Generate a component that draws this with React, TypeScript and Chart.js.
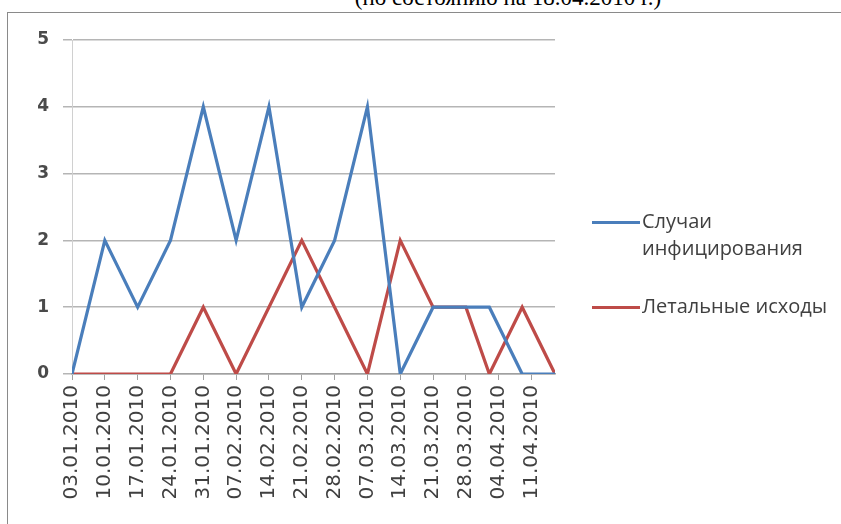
import React, { useEffect, useRef } from "react";
import { Chart, registerables } from "chart.js";

Chart.register(...registerables);

// Dates of the observations (points on a date axis)
const pointDates = [
  "03.01.2010", "10.01.2010", "17.01.2010", "24.01.2010", "31.01.2010",
  "07.02.2010", "14.02.2010", "21.02.2010", "28.02.2010", "07.03.2010",
  "14.03.2010", "21.03.2010", "28.03.2010", "02.04.2010", "09.04.2010",
  "16.04.2010",
];
// Случаи инфицирования
const infected = [0, 2, 1, 2, 4, 2, 4, 1, 2, 4, 0, 1, 1, 1, 0, 0];
// Летальные исходы
const deaths = [0, 0, 0, 0, 1, 0, 1, 2, 1, 0, 2, 1, 1, 0, 1, 0];

// Weekly tick labels of the date axis
const tickDates = [
  "03.01.2010", "10.01.2010", "17.01.2010", "24.01.2010", "31.01.2010",
  "07.02.2010", "14.02.2010", "21.02.2010", "28.02.2010", "07.03.2010",
  "14.03.2010", "21.03.2010", "28.03.2010", "04.04.2010", "11.04.2010",
];

const seriesNames = ["Случаи инфицирования", "Летальные исходы"];
const seriesColors = ["#4a7ebb", "#be4b48"];
const titleText = "(по состоянию на 18.04.2010 г.)";

function dayOf(s: string): number {
  const [d, m, y] = s.split(".").map(Number);
  const [d0, m0, y0] = pointDates[0].split(".").map(Number);
  return Math.round((Date.UTC(y, m - 1, d) - Date.UTC(y0, m0 - 1, d0)) / 86400000);
}

export default function App() {
  const ref = useRef<HTMLCanvasElement | null>(null);

  useEffect(() => {
    if (!ref.current) return;
    const mk = (vals: number[]) => pointDates.map((d, i) => ({ x: dayOf(d), y: vals[i] }));
    const chart = new Chart(ref.current, {
      type: "line",
      data: {
        datasets: [
          {
            label: seriesNames[0],
            data: mk(infected),
            borderColor: seriesColors[0],
            backgroundColor: seriesColors[0],
            borderWidth: 3.2,
            pointRadius: 0,
            tension: 0,
          },
          {
            label: seriesNames[1],
            data: mk(deaths),
            borderColor: seriesColors[1],
            backgroundColor: seriesColors[1],
            borderWidth: 3.2,
            pointRadius: 0,
            tension: 0,
          },
        ],
      },
      options: {
        animation: false,
        responsive: false,
        devicePixelRatio: 1,
        layout: { padding: { top: 40, right: 286, left: 0, bottom: 0 } },
        plugins: {
          legend: { display: false },
          title: { display: false },
          tooltip: { enabled: false },
        },
        scales: {
          x: {
            type: "linear",
            min: 0,
            max: dayOf(pointDates[pointDates.length - 1]),
            afterBuildTicks: (s: any) => {
              s.ticks = tickDates.map((d) => ({ value: dayOf(d) }));
            },
            afterFit: (s: any) => {
              s.height = 150;
            },
            ticks: {
              autoSkip: false,
              minRotation: 90,
              maxRotation: 90,
              padding: 5,
              color: "#404040",
              font: { family: "DejaVu Sans", size: 20 },
              callback: (_v: any, i: number) => tickDates[i],
            },
            grid: {
              drawOnChartArea: false,
              drawTicks: true,
              tickLength: 6,
              color: "#a0a0a0",
            },
            border: { color: "#a0a0a0", width: 1.5 },
          },
          y: {
            min: 0,
            max: 5,
            afterFit: (s: any) => {
              s.width = 72;
            },
            ticks: {
              stepSize: 1,
              padding: 14,
              color: "#4a4a4a",
              font: { family: "DejaVu Sans", size: 17, weight: "bold" },
            },
            grid: {
              color: "#b5b5b5",
              lineWidth: 1.5,
              tickLength: 9,
            },
            border: { color: "#d0d0d0", width: 1 },
          },
        },
      },
    });
    return () => chart.destroy();
  }, []);

  const legendText: React.CSSProperties = {
    position: "absolute",
    fontFamily: "'Open Sans', sans-serif",
    fontSize: 20,
    color: "#404040",
    lineHeight: "26px",
    whiteSpace: "nowrap",
  };

  return (
    <div style={{ position: "fixed", left: 0, top: 0, width: 841, height: 524, overflow: "hidden", background: "#fff" }}>
      <div
        style={{
          position: "absolute",
          left: 0,
          top: -15,
          width: 1016,
          textAlign: "center",
          fontFamily: "'Liberation Serif', serif",
          fontSize: 23,
          color: "#000",
          whiteSpace: "nowrap",
        }}
      >
        {titleText}
      </div>
      <div
        style={{
          position: "absolute",
          left: 7,
          top: 12,
          width: 900,
          height: 600,
          border: "1.5px solid #8a8a8a",
        }}
      />
      <canvas ref={ref} width={841} height={524} style={{ position: "absolute", left: 0, top: 0, width: 841, height: 524 }} />
      <div style={{ position: "absolute", left: 592, top: 221, width: 48, height: 3, background: seriesColors[0] }} />
      <div style={{ ...legendText, left: 642, top: 208 }}>Случаи</div>
      <div style={{ ...legendText, left: 642, top: 235 }}>инфицирования</div>
      <div style={{ position: "absolute", left: 592, top: 306, width: 48, height: 3, background: seriesColors[1] }} />
      <div style={{ ...legendText, left: 642, top: 293 }}>Летальные исходы</div>
    </div>
  );
}
